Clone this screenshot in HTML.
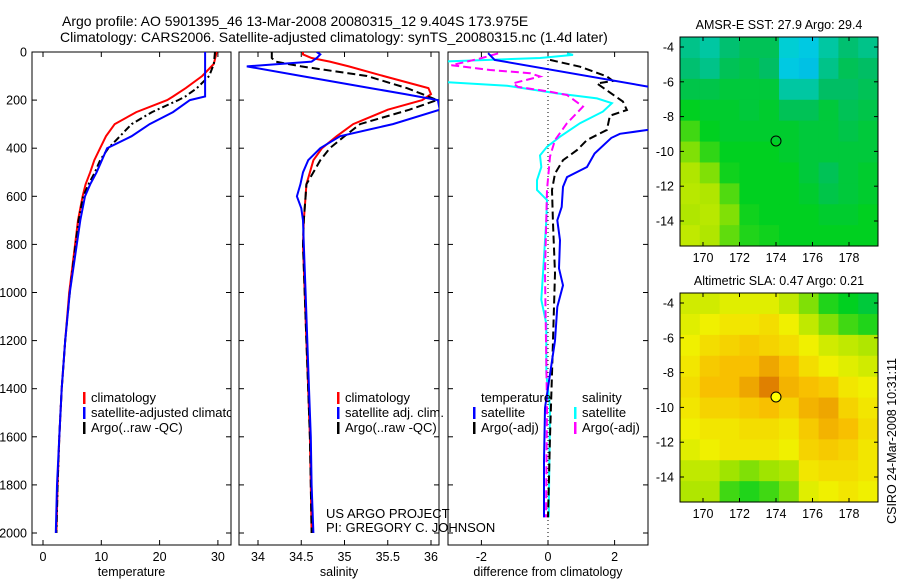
<!DOCTYPE html>
<html><head><meta charset="utf-8">
<style>
body{margin:0;background:#fff;}
svg text{font-family:"Liberation Sans",sans-serif;fill:#000;}
</style></head>
<body>
<svg id="fig" width="900" height="580" viewBox="0 0 900 580" xmlns="http://www.w3.org/2000/svg">
<defs>
<clipPath id="c1"><rect x="32" y="52" width="199" height="493"/></clipPath>
<clipPath id="c2"><rect x="239" y="52" width="200" height="493"/></clipPath>
<clipPath id="c3"><rect x="448" y="52" width="200" height="493"/></clipPath>
</defs>
<text x="62" y="26" font-size="14">Argo profile: AO 5901395_46 13-Mar-2008 20080315_12 9.404S 173.975E</text>
<text x="60" y="42" font-size="14">Climatology: CARS2006. Satellite-adjusted climatology: synTS_20080315.nc (1.4d later)</text>
<g id="g1"></g>
<g id="g2"></g>
<g id="g3"></g>
<g id="m1"></g>
<g id="m2"></g>
<text transform="translate(896,441) rotate(-90)" text-anchor="middle" font-size="12.5">CSIRO 24-Mar-2008 10:31:11</text>
</svg>
<script>
// ---- data ----
const tDepth = [0,50,100,150,185,200,250,300,350,400,450,500,550,600,700,800,1000,1200,1400,1600,1800,2000];
const tClim = [29.8,29.3,27.3,24.5,22.3,21.3,16.0,12.3,10.8,9.8,8.8,8.1,7.3,6.8,6.0,5.5,4.5,3.8,3.2,2.8,2.5,2.3];
const tSat = [27.8,27.8,27.8,27.8,27.8,25.2,22.3,18.3,15.2,11,10.1,9.2,8.1,7.2,6.4,5.8,4.6,3.8,3.2,2.8,2.4,2.2];
const tArgo = [29.5,29.3,28.5,26.4,24.4,23.2,18.7,15.2,13.2,11.2,9.8,8.9,7.8,6.9,6.1,5.6,4.6,3.8,3.2,2.8,2.5,2.3];
const sDepth = [0,10,25,40,60,100,150,175,200,240,300,350,400,450,500,550,600,650,700,800,1000,1200,1400,1600,1800,2000];
const sClim = [34.52,34.52,34.62,34.83,35.05,35.45,35.97,36.0,35.9,35.5,35.1,34.91,34.74,34.64,34.6,34.56,34.55,34.54,34.53,34.52,34.54,34.56,34.58,34.6,34.61,34.62];
const sSat = [34.68,34.72,34.68,34.62,33.87,34.5,35.3,35.7,36.08,36.1,35.56,34.95,34.72,34.58,34.52,34.49,34.45,34.5,34.52,34.53,34.55,34.57,34.59,34.61,34.62,34.64];
const sArgo = [34.16,34.16,34.16,34.2,34.5,35.26,35.72,35.9,36.07,35.75,35.18,35.0,34.83,34.72,34.64,34.56,34.55,34.54,34.53,34.52,34.54,34.56,34.58,34.6,34.61,34.62];
const dtSatDepth = [5,33,144,230,324,340,357,422,478,520,561,644,700,783,900,970,1060,1200,1340,1480,1700,1935];
const dtSat = [-1.8,-1.6,3.0,4.5,3.0,2.16,1.9,1.4,1.17,0.57,0.45,0.41,0.28,0.36,0.33,0.45,0.28,0.21,0.06,-0.09,-0.12,-0.12];
const dtArgoDepth = [33,61,102,120,131,206,241,265,324,366,408,450,505,574,713,920,1338,1600,1935];
const dtArgo = [0.06,0.96,1.77,1.95,1.47,2.25,2.37,1.86,1.77,1.17,0.87,0.45,0.21,0.12,0.15,0.21,0.12,0.06,0.0];
const dsSatDepth = [6,12,25,40,124,140,172,193,213,248,296,352,394,430,478,533,574,616,700,920,1030,1130,1338,1477,1935];
const dsSat = [0.57,0.75,-0.24,-3.2,-3.2,-1.23,0.27,1.47,1.92,1.65,0.96,0.36,-0.03,-0.24,-0.2,-0.33,-0.33,-0.03,-0.05,-0.15,-0.2,-0.05,-0.05,0.06,0.02];
const dsArgoDepth = [6,27,55,75,88,102,130,145,165,179,227,296,366,435,574,920,1477,1935];
const dsArgo = [-1.5,-2.04,-2.9,-1.74,-0.54,-0.24,-1.05,-0.9,0.06,0.57,1.05,0.57,0.21,0.06,-0.03,-0.09,-0.03,-0.06];
const depthTicks = [0,200,400,600,800,1000,1200,1400,1600,1800,2000];
const tTicks = [0,10,20,30];
const sTicks = [34,34.5,35,35.5,36];
const sTickLabels = ["34","34.5","35","35.5","36"];
const dTicks = [-2,0,2];
const latTicks = [-4,-6,-8,-10,-12,-14];
const lonTicks = [170,172,174,176,178];
const sstGrid = [
[.42,.40,.44,.46,.46,.36,.34,.40,.44,.42],
[.44,.42,.46,.47,.45,.34,.33,.42,.46,.45],
[.47,.47,.48,.48,.48,.40,.40,.45,.45,.46],
[.50,.49,.49,.48,.49,.46,.46,.48,.46,.47],
[.54,.50,.49,.49,.49,.49,.48,.48,.47,.48],
[.58,.53,.50,.50,.50,.49,.48,.48,.48,.48],
[.62,.58,.51,.50,.50,.50,.48,.46,.48,.49],
[.63,.62,.55,.50,.50,.50,.49,.47,.48,.49],
[.62,.63,.58,.51,.50,.50,.50,.49,.49,.50],
[.64,.62,.56,.52,.51,.50,.50,.50,.50,.50]];
const slaGrid = [
[.66,.66,.68,.68,.68,.64,.58,.52,.50,.48],
[.68,.70,.72,.72,.74,.70,.64,.58,.54,.52],
[.70,.74,.76,.78,.76,.74,.70,.66,.64,.62],
[.72,.78,.80,.80,.84,.80,.74,.70,.68,.66],
[.74,.80,.80,.84,.90,.82,.80,.78,.72,.70],
[.72,.76,.76,.78,.80,.76,.82,.84,.76,.72],
[.70,.72,.72,.74,.74,.72,.78,.82,.80,.74],
[.68,.70,.72,.72,.72,.70,.76,.78,.76,.72],
[.64,.64,.60,.58,.60,.62,.72,.74,.74,.72],
[.62,.62,.54,.52,.54,.58,.68,.70,.72,.70]];
const floatLon = 174.0, floatLat = -9.4;

const NS='http://www.w3.org/2000/svg';
function mk(parent, tag, attrs){const e=document.createElementNS(NS,tag);for(const k in attrs)e.setAttribute(k,attrs[k]);parent.appendChild(e);return e;}
const yD = d => 52 + d*0.2405;
function panel(g, x0, x1, xs, ticks, labels, xlabel, showY){
  const f=mk(g,'rect',{x:x0,y:52,width:x1-x0,height:493,fill:'none',stroke:'#000','stroke-width':1});
  
  
  depthTicks.forEach(d=>{
    const y=yD(d);
    mk(g,'line',{x1:x0,x2:x0+5,y1:y,y2:y,stroke:'#000'});
    mk(g,'line',{x1:x1-5,x2:x1,y1:y,y2:y,stroke:'#000'});
    if(showY){const t=mk(g,'text',{x:27,y:y+4.5,'text-anchor':'end','font-size':12.5});t.textContent=d;
      
      }
  });
  ticks.forEach((v,i)=>{
    const x=xs(v);
    mk(g,'line',{x1:x,x2:x,y1:545,y2:540,stroke:'#000'});
    mk(g,'line',{x1:x,x2:x,y1:52,y2:57,stroke:'#000'});
    const t=mk(g,'text',{x:x,y:561,'text-anchor':'middle','font-size':12.5});t.textContent=labels[i];
    
    
  });
  const xl=mk(g,'text',{x:(x0+x1)/2,y:576,'text-anchor':'middle','font-size':12.5});xl.textContent=xlabel;
  
  
}
function line(g, clip, xs, depth, vals, color, dash, name, w){
  const pts=depth.map((d,i)=>xs(vals[i]).toFixed(1)+','+yD(d).toFixed(1)).join(' ');
  const p=mk(g,'polyline',{points:pts,fill:'none',stroke:color,'stroke-width':w||2,'clip-path':'url(#'+clip+')'});
  if(dash)p.setAttribute('stroke-dasharray',dash);
  
  
}
function legend(g, x, y, items, clip){
  items.forEach((it,i)=>{
    const yy=y+i*15;
    mk(g,'rect',{x:x,y:yy-10,width:2.5,height:12,fill:it[1]});
    const t=mk(g,'text',{x:x+8,y:yy,'font-size':13});t.textContent=it[0];
    if(clip)t.setAttribute('clip-path','url(#'+clip+')');
    
    
  });
}
// temperature
const g1=document.getElementById('g1');
const xT=v=>43+v*5.83;
panel(g1,32,231,xT,tTicks,tTicks.map(String),'temperature',true);
line(g1,'c1',xT,tDepth,tClim,'#f00',null,'climatology-temp-line');
line(g1,'c1',xT,tDepth,tArgo,'#000','7,3,2,3','argo-temp-line');
line(g1,'c1',xT,tDepth,tSat,'#00f',null,'satellite-temp-line');
legend(g1,83,402,[['climatology','#f00'],['satellite-adjusted climatology','#00f'],['Argo(..raw -QC)','#000']],'c1');
// salinity
const g2=document.getElementById('g2');
const xS=v=>258+(v-34)*86.5;
panel(g2,239,439,xS,sTicks,sTickLabels,'salinity',false);
line(g2,'c2',xS,sDepth,sClim,'#f00',null,'climatology-salinity-line');
line(g2,'c2',xS,sDepth,sArgo,'#000','8,4','argo-salinity-line');
line(g2,'c2',xS,sDepth,sSat,'#00f',null,'satellite-salinity-line');
legend(g2,337,402,[['climatology','#f00'],['satellite adj. clim.','#00f'],['Argo(..raw -QC)','#000']]);
// difference
const g3=document.getElementById('g3');
const xDf=v=>548+v*33.3;
panel(g3,448,648,xDf,dTicks,dTicks.map(String),'difference from climatology',false);
mk(g3,'line',{x1:548,x2:548,y1:52,y2:545,stroke:'#000','stroke-dasharray':'1,3'});
line(g3,'c3',xDf,dsSatDepth,dsSat,'#0ff',null,'satellite-salinity-diff-line');
line(g3,'c3',xDf,dsArgoDepth,dsArgo,'#f0f','8,4','argo-salinity-diff-line');
line(g3,'c3',xDf,dtArgoDepth,dtArgo,'#000','8,4','argo-temp-diff-line');
line(g3,'c3',xDf,dtSatDepth,dtSat,'#00f',null,'satellite-temp-diff-line');
const th=mk(g3,'text',{x:481,y:402,'font-size':13});th.textContent='temperature';


const sh=mk(g3,'text',{x:582,y:402,'font-size':13});sh.textContent='salinity';


legend(g3,473,417,[['satellite','#00f'],['Argo(-adj)','#000']]);
legend(g3,574,417,[['satellite','#0ff'],['Argo(-adj)','#f0f']]);
const pr1=mk(g3,'text',{x:326,y:518,'font-size':13});pr1.textContent='US ARGO PROJECT';


const pr2=mk(g3,'text',{x:326,y:532,'font-size':13});pr2.textContent='PI: GREGORY C. JOHNSON';


// maps
const stops=[[0,[0,0,160]],[0.2,[0,96,255]],[0.35,[0,208,224]],[0.45,[0,190,100]],[0.5,[0,208,32]],[0.6,[160,228,0]],[0.7,[240,240,0]],[0.8,[248,192,0]],[0.9,[224,128,0]],[1,[176,64,0]]];
function cmap(v){for(let i=1;i<stops.length;i++){if(v<=stops[i][0]){const a=stops[i-1],b=stops[i],t=(v-a[0])/(b[0]-a[0]);return 'rgb('+a[1].map((c,k)=>Math.round(c+(b[1][k]-c)*t)).join(',')+')';}}return 'rgb(176,64,0)';}
function map(id, top, grid, title, fillDot){
  const g=document.getElementById(id);
  const L=680,R=878,T=top,B=top+209;
  const xs=lon=>703+(lon-170)*18.25, ys=lat=>top+10+(-4-lat)*17.4;
  const lon0=168.74,lon1=179.59,lat0=-3.43,lat1=-15.44;
  const nr=grid.length,nc=grid[0].length;
  grid.forEach((row,r)=>row.forEach((v,c)=>{
    const la=lat0+(lat1-lat0)*r/nr, lb=lat0+(lat1-lat0)*(r+1)/nr;
    const oa=lon0+(lon1-lon0)*c/nc, ob=lon0+(lon1-lon0)*(c+1)/nc;
    const cell=mk(g,'rect',{x:xs(oa),y:ys(la),width:xs(ob)-xs(oa)+0.5,height:ys(lb)-ys(la)+0.5,fill:cmap(v)});
    
    
  }));
  const fr=mk(g,'rect',{x:L,y:T,width:R-L,height:B-T,fill:'none',stroke:'#000'});
  
  
  latTicks.forEach(la=>{const y=ys(la);mk(g,'line',{x1:L,x2:L+4,y1:y,y2:y,stroke:'#000'});mk(g,'line',{x1:R-4,x2:R,y1:y,y2:y,stroke:'#000'});
    const t=mk(g,'text',{x:674,y:y+4.5,'text-anchor':'end','font-size':12.5});t.textContent=la;
    
    });
  lonTicks.forEach(lo=>{const x=xs(lo);mk(g,'line',{x1:x,x2:x,y1:B,y2:B-4,stroke:'#000'});mk(g,'line',{x1:x,x2:x,y1:T,y2:T+4,stroke:'#000'});
    const t=mk(g,'text',{x:x,y:B+16,'text-anchor':'middle','font-size':12.5});t.textContent=lo;
    
    });
  const tt=mk(g,'text',{x:779,y:T-8,'text-anchor':'middle','font-size':12.5});tt.textContent=title;
  
  
  const dot=mk(g,'circle',{cx:xs(floatLon),cy:ys(floatLat),r:5,fill:fillDot,stroke:'#000','stroke-width':1});
  
  
}
map('m1',37,sstGrid,'AMSR-E SST: 27.9 Argo: 29.4','none');
map('m2',293,slaGrid,'Altimetric SLA: 0.47 Argo: 0.21','#ff0');
</script>
</body></html>
